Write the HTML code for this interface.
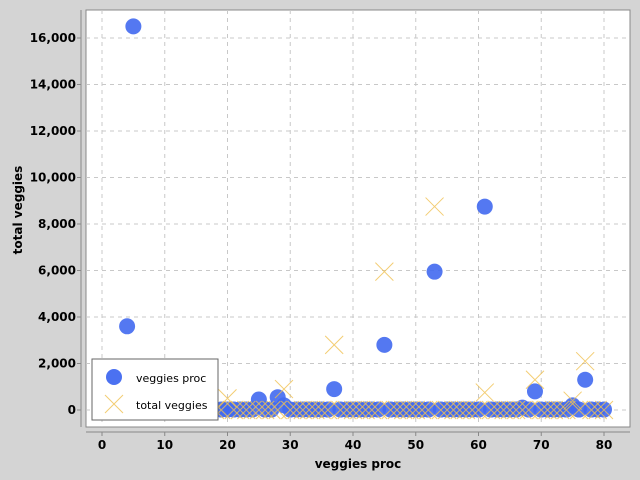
<!DOCTYPE html>
<html><head><meta charset="utf-8"><style>
body{margin:0;background:#d4d4d4;}
svg{display:block;font-family:"DejaVu Sans","Liberation Sans",sans-serif;}
</style></head><body>
<svg id="c" width="640" height="480">
<rect x="0" y="0" width="640" height="480" fill="#d4d4d4"/>
<rect x="86" y="10" width="544" height="417" fill="#ffffff" stroke="#888"/>
<g id="grid"></g>
<g id="axes"></g>
<g id="marks"></g>
<text x="22" y="210" transform="rotate(-90 22 210)" text-anchor="middle" font-size="12" font-weight="bold">total veggies</text>
<text x="358" y="468" text-anchor="middle" font-size="12" font-weight="bold">veggies proc</text>
<g>
<rect x="92" y="359" width="126" height="61" fill="#fff" stroke="#666"/>
<circle cx="114" cy="377" r="8" fill="#4169f0" fill-opacity="0.95"/>
<text x="136" y="382" font-size="11">veggies proc</text>
<path d="M105 395 L123 413 M123 395 L105 413" stroke="#f0c050" stroke-width="1" stroke-opacity="0.8"/>
<text x="136" y="409" font-size="11">total veggies</text>
</g>
</svg>
<script>
const xs = [];
for (let i = 1; i <= 80; i++) xs.push(i);
const procSpecial = {4:3600,5:16500,25:450,28:550,29:200,37:900,45:2800,53:5950,61:8750,67:100,69:800,75:200,77:1300};
const totalSpecial = {20:500,29:900,37:2800,45:5950,53:8750,61:750,69:1300,75:400,77:2100};
const procVals = xs.map(x => procSpecial[x] !== undefined ? procSpecial[x] : 20);
const totalVals = xs.map(x => totalSpecial[x] !== undefined ? totalSpecial[x] : 0);
const xTicks = [0,10,20,30,40,50,60,70,80];
const yTicks = [0,2000,4000,6000,8000,10000,12000,14000,16000];
const yTickLabels = ["0","2,000","4,000","6,000","8,000","10,000","12,000","14,000","16,000"];

const NS = "http://www.w3.org/2000/svg";
const sx = v => 102 + v * (604 - 102) / 80;
const sy = v => 410 - v * (410 - 38) / 16000;
function mk(tag, attrs, parent) {
  const e = document.createElementNS(NS, tag);
  for (const k in attrs) e.setAttribute(k, attrs[k]);
  parent.appendChild(e);
  return e;
}
const grid = document.getElementById('grid'), axes = document.getElementById('axes'), marks = document.getElementById('marks');
mk('line', {x1:81,y1:10,x2:81,y2:427,stroke:'#888'}, axes);
mk('line', {x1:86,y1:432,x2:630,y2:432,stroke:'#888'}, axes);
xTicks.forEach(t => {
  const g = mk('line', {x1:sx(t),y1:10,x2:sx(t),y2:427,stroke:'#c8c8c8','stroke-dasharray':'4 4'}, grid);
  
  
  mk('line', {x1:sx(t),y1:432,x2:sx(t),y2:436,stroke:'#888'}, axes);
  const tx = mk('text', {x:sx(t),y:449,'text-anchor':'middle','font-size':'12','font-weight':'bold'}, axes);
  tx.textContent = t;
  
  
});
yTicks.forEach((t, i) => {
  const g = mk('line', {x1:86,y1:sy(t),x2:630,y2:sy(t),stroke:'#c8c8c8','stroke-dasharray':'4 4'}, grid);
  
  
  mk('line', {x1:77,y1:sy(t),x2:81,y2:sy(t),stroke:'#888'}, axes);
  const tx = mk('text', {x:76,y:sy(t)+4,'text-anchor':'end','font-size':'12','font-weight':'bold'}, axes);
  tx.textContent = yTickLabels[i];
  
  
});
xs.forEach((x, i) => {
  const c = mk('circle', {cx:sx(x),cy:sy(procVals[i]),r:8,fill:'#4169f0','fill-opacity':'0.9'}, marks);
  
  
});
xs.forEach((x, i) => {
  const cx = sx(x), cy = sy(totalVals[i]);
  const p = mk('path', {d:`M${cx-9} ${cy-9} L${cx+9} ${cy+9} M${cx+9} ${cy-9} L${cx-9} ${cy+9}`,stroke:'#f0c050','stroke-width':'1','stroke-opacity':'0.8','fill':'none'}, marks);
  
  
});
</script>
</body></html>
